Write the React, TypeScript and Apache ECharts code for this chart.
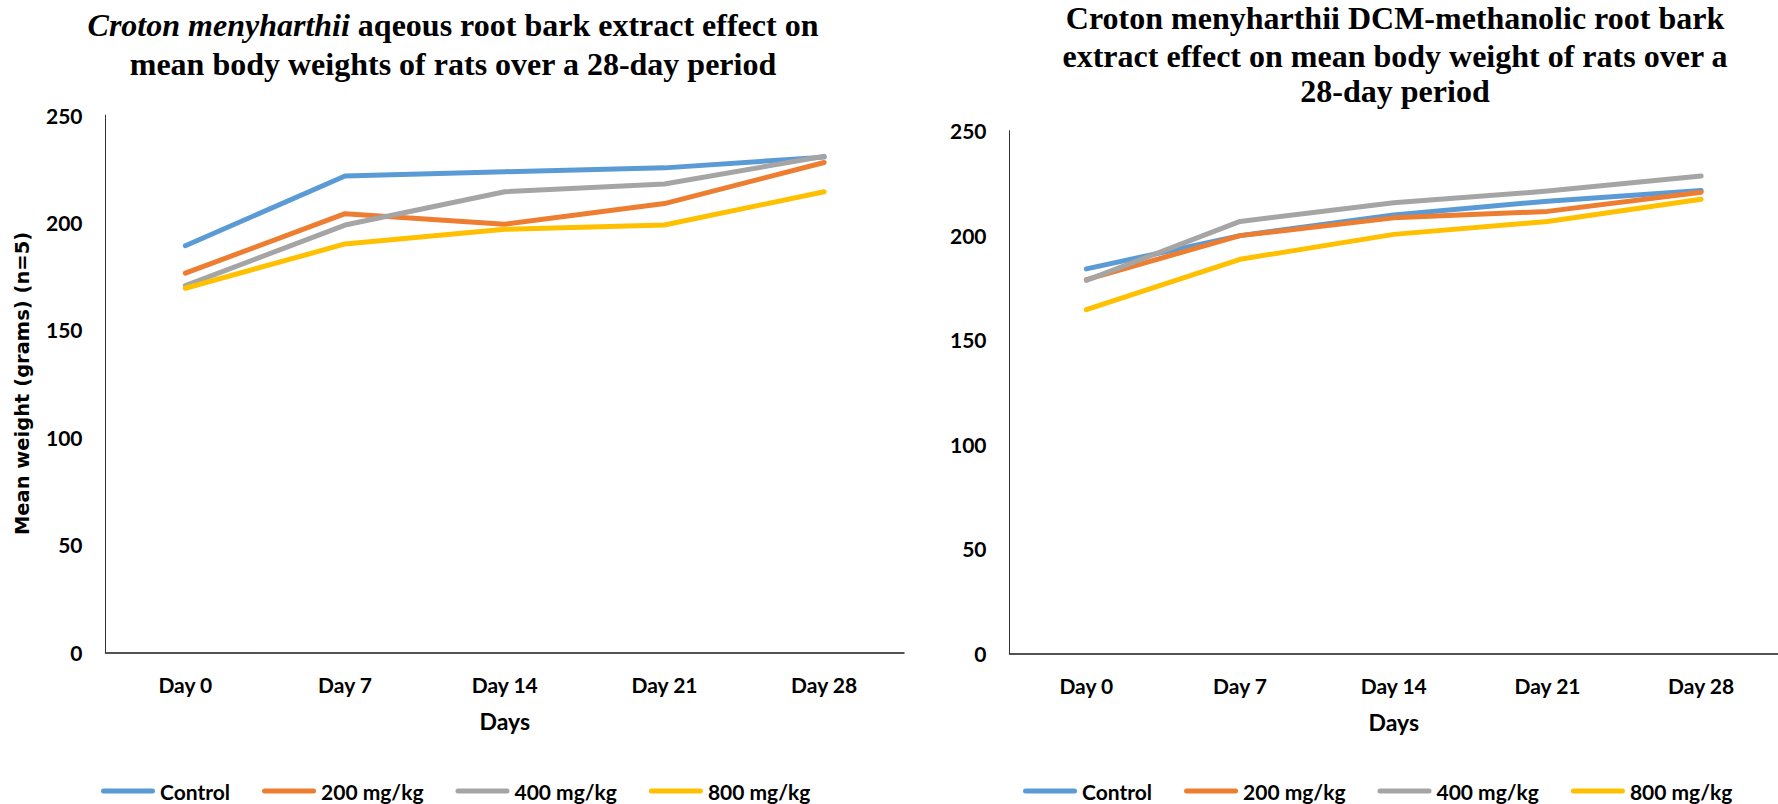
import React, { useEffect, useRef } from "react";
import * as echarts from "echarts";

// Sampling days shared by both panels
const DAYS = ["Day 0", "Day 7", "Day 14", "Day 21", "Day 28"];
const GROUPS = ["Control", "200 mg/kg", "400 mg/kg", "800 mg/kg"];
const Y_TICKS = [0, 50, 100, 150, 200, 250];

// Aqueous root bark extract: mean body weight (g)
const AQ_CONTROL = [189.2, 221.6, 223.6, 225.4, 230.4];
const AQ_200 = [176.4, 204.1, 199.2, 208.8, 227.9];
const AQ_400 = [170.6, 198.8, 214.3, 217.9, 230.8];
const AQ_800 = [169.4, 190.0, 196.8, 198.8, 214.3];

// DCM-methanolic root bark extract: mean body weight (g)
const DCM_CONTROL = [183.9, 199.8, 209.7, 216.3, 221.4];
const DCM_200 = [178.8, 199.8, 208.3, 211.4, 220.6];
const DCM_400 = [178.4, 206.6, 215.5, 221.1, 228.3];
const DCM_800 = [164.4, 188.5, 200.4, 206.6, 217.2];

const COLORS = ["#5B9BD5", "#ED7D31", "#A5A5A5", "#FFC000"];

const SANS = "Lato, 'Noto Sans', sans-serif";
const SERIF = "'Liberation Serif', 'Times New Roman', serif";
const CAPSULE = "path://M2.5,0 L51.5,0 A2.5,2.5 0 0 1 51.5,5 L2.5,5 A2.5,2.5 0 0 1 2.5,0 Z";

function buildOption() {
  const panels = [
    [AQ_CONTROL, AQ_200, AQ_400, AQ_800],
    [DCM_CONTROL, DCM_200, DCM_400, DCM_800],
  ];

  const axisLabelText = {
    fontFamily: SANS,
    fontWeight: "bold" as const,
    fontSize: 21,
    color: "#000",
  };

  const xAxis = [0, 1].map((i) => ({
    gridIndex: i,
    type: "category" as const,
    data: DAYS,
    boundaryGap: true,
    axisTick: { show: false },
    axisLine: { lineStyle: { color: "#1a1a1a", width: 1.5 } },
    axisLabel: { ...axisLabelText, margin: 20, lineHeight: 24 },
    name: "Days",
    nameLocation: "middle" as const,
    nameGap: 56,
    nameTextStyle: { ...axisLabelText, fontSize: 23, lineHeight: 26 },
  }));

  const yAxis = [0, 1].map((i) => ({
    gridIndex: i,
    type: "value" as const,
    min: Y_TICKS[0],
    max: Y_TICKS[Y_TICKS.length - 1],
    interval: Y_TICKS[1] - Y_TICKS[0],
    axisTick: { show: false },
    splitLine: { show: false },
    axisLine: { show: true, lineStyle: { color: "#333", width: 1 } },
    axisLabel: { ...axisLabelText, margin: 23 },
  }));

  const series: any[] = [];
  panels.forEach((groupValues, p) => {
    groupValues.forEach((values, g) => {
      series.push({
        type: "line",
        name: GROUPS[g],
        xAxisIndex: p,
        yAxisIndex: p,
        data: values,
        symbol: "none",
        showSymbol: false,
        itemStyle: { color: COLORS[g] },
        lineStyle: { color: COLORS[g], width: 5, cap: "round", join: "round" },
      });
    });
  });

  const legendBase = {
    data: GROUPS,
    orient: "horizontal" as const,
    top: 774,
    icon: CAPSULE,
    itemWidth: 54,
    itemHeight: 5,
    itemGap: 32,
    textStyle: { ...axisLabelText, lineHeight: 24, padding: [0, 0, 0, 0] },
    selectedMode: false,
  };

  const titleFont = {
    fontFamily: SERIF,
    fontWeight: "bold" as const,
    fontSize: 32,
    fill: "#000",
    align: "center" as const,
    verticalAlign: "middle" as const,
  };

  const graphic = [
    {
      type: "text",
      x: 453,
      y: 25,
      style: {
        ...titleFont,
        text: "{i|Croton menyharthii} aqeous root bark extract effect on",
        rich: {
          i: {
            fontFamily: SERIF,
            fontWeight: "bold",
            fontStyle: "italic",
            fontSize: 32,
            fill: "#000",
          },
        },
      },
    },
    { type: "text", x: 453, y: 64, style: { ...titleFont, text: "mean body weights of rats over a 28-day period" } },
    { type: "text", x: 1395, y: 18, style: { ...titleFont, text: "Croton menyharthii DCM-methanolic root bark" } },
    { type: "text", x: 1395, y: 56, style: { ...titleFont, text: "extract effect on mean body weight of rats over a" } },
    { type: "text", x: 1395, y: 91, style: { ...titleFont, text: "28-day period" } },
    // Left panel's vertical axis title
    {
      type: "text",
      x: 22,
      y: 383.5,
      rotation: Math.PI / 2,
      style: {
        text: "Mean weight (grams) (n=5)",
        fontFamily: "'DejaVu Sans', sans-serif",
        fontWeight: "bold",
        fontSize: 19.5,
        fill: "#000",
        align: "center",
        verticalAlign: "middle",
      },
    },
  ];

  return {
    animation: false,
    backgroundColor: "#ffffff",
    color: COLORS,
    grid: [
      { left: 105.5, top: 115, width: 798.5, height: 537.3 },
      { left: 1009.5, top: 130.7, width: 774.5, height: 522.6 },
    ],
    xAxis,
    yAxis,
    legend: [
      { ...legendBase, left: 96 },
      { ...legendBase, left: 1018 },
    ],
    graphic,
    series,
  };
}

export default function App() {
  const ref = useRef<HTMLDivElement>(null);

  useEffect(() => {
    if (!ref.current) return;
    const chart = echarts.init(ref.current, undefined, { renderer: "svg" });
    chart.setOption(buildOption() as any);
    return () => chart.dispose();
  }, []);

  return (
    <div
      ref={ref}
      style={{ position: "absolute", left: 0, top: 0, width: 1778, height: 804, background: "#fff" }}
    />
  );
}
